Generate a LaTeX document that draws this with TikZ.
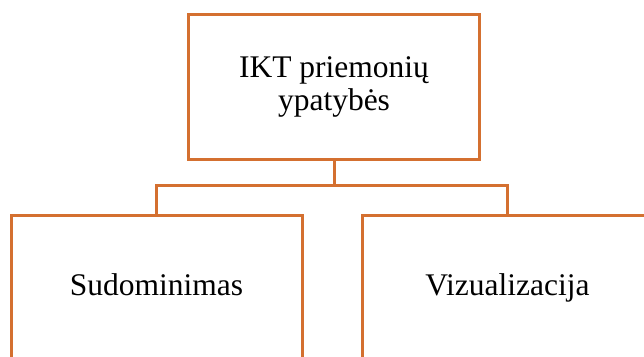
\documentclass[tikz,border=0pt]{standalone}
\usepackage{fontspec}
\setmainfont{Liberation Serif}
\usetikzlibrary{calc}
\definecolor{boxorange}{RGB}{212,112,48}
\tikzset{
  orgbox/.style={draw=boxorange, line width=3pt, fill=white, minimum width=291pt, minimum height=145pt, inner sep=0pt, align=center, font=\fontsize{31.5}{33}\selectfont},
  leafbox/.style={orgbox, text height=22pt, text depth=7pt},
  link/.style={draw=boxorange, line width=3pt}
}
\begin{document}
\begin{tikzpicture}[x=1pt,y=1pt]
\useasboundingbox (0,0) rectangle (644,-356);
\clip (0,0) rectangle (644,-356);
\node[orgbox] (top) at (334,-86.5) {IKT priemonių\\ypatybės};
\node[leafbox] (left) at (156.5,-287.5) {Sudominimas};
\node[leafbox] (right) at (507.5,-287.5) {Vizualizacija};
\coordinate (mid) at ($(top.south)+(0,-25)$);
\draw[link] (top.south) -- (mid);
\draw[link] (mid) -| (left.north);
\draw[link] (mid) -| (right.north);
\end{tikzpicture}
\end{document}
